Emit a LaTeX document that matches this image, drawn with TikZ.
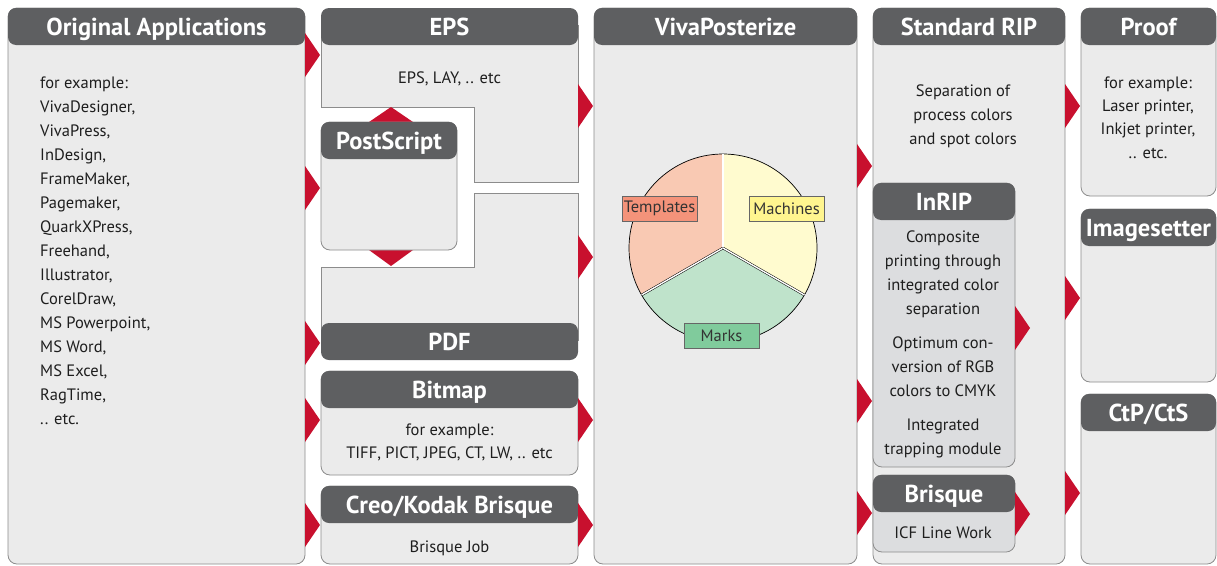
\documentclass[tikz,border=0pt]{standalone}
\usepackage{fontspec}
\setmainfont{PT Sans}
\usetikzlibrary{calc}
\definecolor{hdr}{HTML}{5E5F61}
\definecolor{bg}{HTML}{EBEBEB}
\definecolor{inbg}{HTML}{DCDDDF}
\definecolor{bord}{HTML}{8C8C8C}
\definecolor{rd}{HTML}{C8102E}
\definecolor{txtc}{HTML}{1E1E1E}
\definecolor{tmpl}{HTML}{F9C9B3}
\definecolor{tmplL}{HTML}{F4937A}
\definecolor{mach}{HTML}{FFFBCF}
\definecolor{machL}{HTML}{FFF58F}
\definecolor{marks}{HTML}{BFE3CB}
\definecolor{marksL}{HTML}{80CB9C}
\newcommand\hfnt{\fontsize{24.5}{28}\selectfont\bfseries}
\newcommand\bfnt{\fontsize{16.5}{24}\selectfont}
\tikzset{
  body/.style={draw=bord, fill=bg, line width=0.8pt, rounded corners=9pt, inner sep=0pt, outer sep=0pt},
  bodyl/.style={draw=bord, fill=bg, line width=0.8pt},
  hdr/.style={fill=hdr, rounded corners=8pt, text=white, font=\hfnt, inner sep=0pt, outer sep=0pt,
    minimum height=37pt, text height=22pt, text depth=5pt},
  txt/.style={font=\bfnt, text=txtc, align=center, inner sep=0pt},
  lab/.style={draw=black!60, line width=0.7pt, minimum width=75pt, minimum height=25pt, inner sep=0pt,
    font=\bfnt, text=black!80},
}
\newcommand\mypanel[7][bg]{%
  \node[body, fill=#1, anchor=north west, minimum width={(#5-#3)*1pt}, minimum height={(#6-#4)*1pt}] (#2) at (#3,#4) {};
  \node[hdr, anchor=north, minimum width={(#5-#3)*1pt}] (#2h) at (#2.north) {#7};
}
\newcommand\rtri[2]{\fill[rd] (#1,#2-22) -- (#1+15,#2) -- (#1,#2+22) -- cycle;}
\begin{document}
\begin{tikzpicture}[x=1pt,y=-1pt]
\useasboundingbox[fill=white] (0,0) rectangle (1217,565);

% Original applications
\mypanel{orig}{8}{8}{305}{564}{Original Applications}
\node[txt, align=left, anchor=base west] (origt) at (40,424) {for example:\\VivaDesigner,\\VivaPress,\\InDesign,\\FrameMaker,\\Pagemaker,\\QuarkXPress,\\Freehand,\\Illustrator,\\CorelDraw,\\MS Powerpoint,\\MS Word,\\MS Excel,\\RagTime,\\.. etc.};

% EPS
\path[bodyl] (321,25) -- (321,107) -- (474,107) -- (474,182) -- (578,182) -- (578,25) -- cycle;
\coordinate (eps) at (449.5,95);
\node[hdr, anchor=north, minimum width=257pt] (epsh) at (449.5,8) {EPS};
\node[txt, anchor=base] (epst) at (449.5,83) {EPS, LAY, .. etc};

% PDF
\path[bodyl] (474,193) -- (578,193) -- (578,340) -- (321,340) -- (321,267) -- (474,267) -- cycle;
\coordinate (pdf) at (449.5,300);
\node[hdr, anchor=north, minimum width=257pt] (pdfh) at (449.5,323) {PDF};

% diamonds of PostScript
\fill[rd] (369,122) -- (391,107) -- (413,122) -- (391,137) -- cycle;
\fill[rd] (369,250) -- (391,235) -- (413,250) -- (391,266) -- cycle;
\mypanel{ps}{321}{122}{457}{250}{PostScript}

% Bitmap
\mypanel{bmp}{321}{371}{578}{475}{Bitmap}
\node[txt, anchor=base] (bmpt) at (449.5,435) {for example:};
\node[txt, anchor=base] (bmpt2) at (449.5,458) {TIFF, PICT, JPEG, CT, LW, .. etc};

% Creo
\mypanel{creo}{321}{486}{578}{564}{Creo/Kodak Brisque}
\node[txt, anchor=base] (creot) at (449.5,552) {Brisque Job};

% VivaPosterize
\mypanel{viva}{594}{8}{857}{564}{VivaPosterize}
\begin{scope}[shift={(723,248)}, yscale=-1]
  \fill[tmpl] (0,0) -- (90:94) arc[start angle=90, end angle=210, radius=94] -- cycle;
  \fill[mach] (0,0) -- (-30:94) arc[start angle=-30, end angle=90, radius=94] -- cycle;
  \fill[marks] (0,0) -- (210:94) arc[start angle=210, end angle=330, radius=94] -- cycle;
  \draw[line width=0.7pt] (0,0) circle[radius=94];
  \foreach \a in {90,210,330} \draw[line width=0.5pt, double=white, double distance=1.4pt] (0,0) -- (\a:94);
\end{scope}
\node[lab, fill=tmplL] (templ) at (659.5,208.5) {Templates};
\node[lab, fill=machL] (machl) at (786.5,208.5) {Machines};
\node[lab, fill=marksL] (marksl) at (721.5,335.5) {Marks};

% Standard RIP
\mypanel{std}{873}{8}{1065}{564}{Standard RIP}
\node[txt, anchor=base] (stdt) at (963,144) {Separation of\\process colors\\and spot colors};
\mypanel[inbg]{inrip}{873}{183}{1015}{467}{InRIP}
\node[txt, anchor=base] (inript) at (943,314) {Composite\\printing through\\integrated color\\separation};
\node[txt, anchor=base] (inript2) at (943,396) {Optimum con-\\version of RGB\\colors to CMYK};
\node[txt, anchor=base] (inript3) at (943,454) {Integrated\\trapping module};
\mypanel[inbg]{brisq}{873}{475}{1015}{552}{Brisque}
\node[txt, anchor=base] (brisqt) at (943,538) {ICF Line Work};

% Output devices
\mypanel{proof}{1081}{8}{1216}{196}{Proof}
\node[txt, anchor=base, font=\fontsize{16.5}{23.2}\selectfont] (prooft) at (1148,158) {for example:\\Laser printer,\\Inkjet printer,\\.. etc.};
\mypanel{imgs}{1081}{209}{1216}{382}{Imagesetter}
\mypanel{ctp}{1081}{394}{1216}{564}{CtP/CtS}

% red arrows
\foreach \yy in {55,188,343,420,525} {\rtri{305}{\yy}}
\foreach \yy in {106,257,420,525} {\rtri{578}{\yy}}
\foreach \yy in {166,401,513} {\rtri{857}{\yy}}
\foreach \yy in {328,514} {\rtri{1015}{\yy}}
\foreach \yy in {106,298,493} {\rtri{1065}{\yy}}
\end{tikzpicture}
\end{document}
